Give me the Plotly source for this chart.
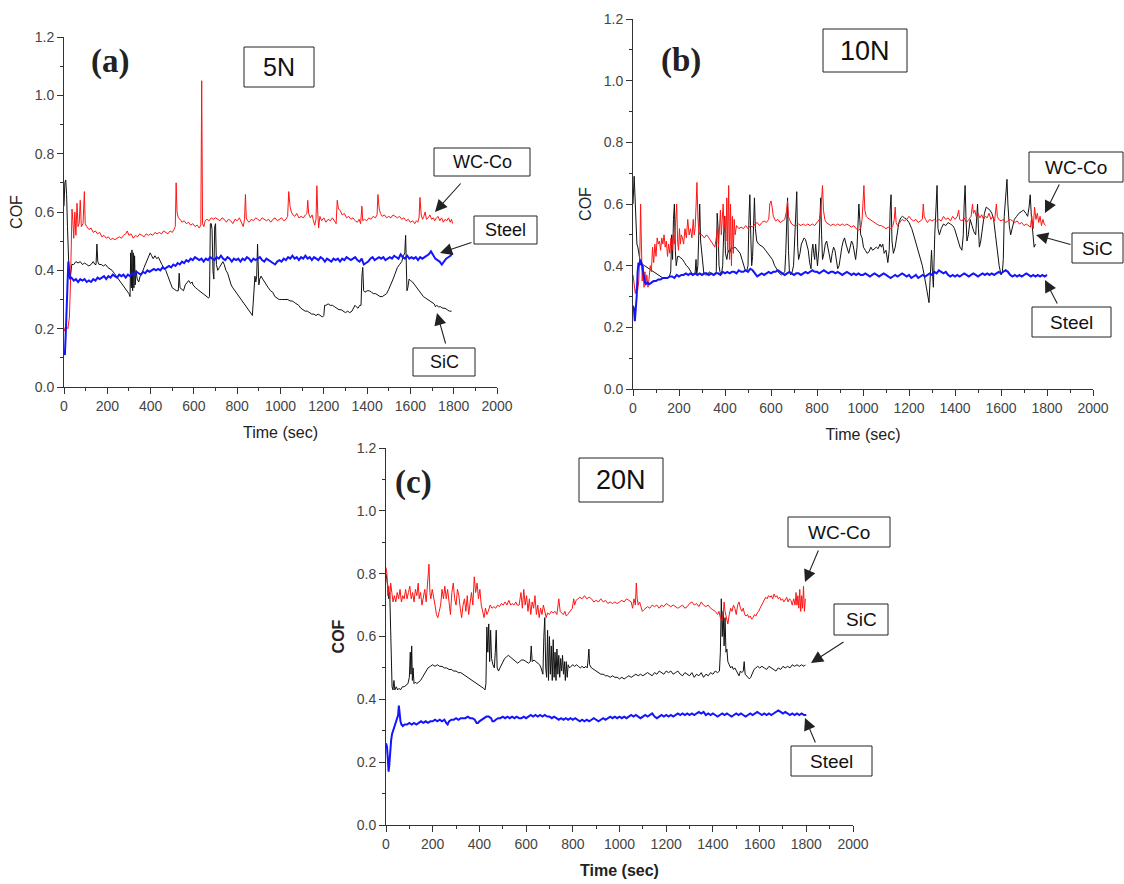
import plotly.graph_objects as go

# ---------------- measured friction data: (time in s, COF) ----------------
# (a) 5 N
a_wc = [(0,0.19),(8,0.21),(18,0.20),(25,0.24),(30,0.36),(33,0.55),(37,0.61),(41,0.57),(45,0.51),(50,0.60),(55,0.52),(60,0.63),(65,0.55),(70,0.56),(75,0.64),(80,0.55),(88,0.56),(94,0.67),(98,0.56),(105,0.55),(115,0.54),(125,0.545),(135,0.53),(145,0.535),(155,0.525),(165,0.53),(175,0.515),(185,0.52),(195,0.51),(205,0.515),(215,0.505),(225,0.51),(235,0.505),(245,0.51),(255,0.515),(265,0.51),(275,0.52),(285,0.525),(292,0.535),(300,0.52),(310,0.525),(320,0.51),(330,0.52),(340,0.515),(350,0.525),(360,0.52),(370,0.515),(380,0.525),(390,0.52),(400,0.525),(410,0.52),(420,0.53),(430,0.525),(440,0.53),(450,0.525),(460,0.535),(470,0.53),(480,0.525),(490,0.535),(500,0.53),(508,0.54),(514,0.55),(518,0.70),(522,0.60),(528,0.58),(536,0.575),(545,0.565),(555,0.57),(565,0.56),(575,0.565),(585,0.555),(595,0.56),(605,0.55),(615,0.555),(625,0.545),(632,0.555),(636,1.05),(640,0.56),(646,0.55),(652,0.57),(660,0.575),(670,0.57),(680,0.58),(690,0.575),(700,0.58),(710,0.575),(720,0.57),(730,0.58),(740,0.575),(750,0.565),(760,0.575),(770,0.57),(780,0.56),(790,0.575),(800,0.57),(810,0.58),(820,0.565),(828,0.55),(834,0.575),(838,0.66),(842,0.58),(848,0.57),(855,0.565),(865,0.575),(875,0.57),(885,0.58),(895,0.575),(905,0.57),(915,0.58),(925,0.575),(935,0.57),(945,0.575),(955,0.565),(965,0.575),(975,0.58),(985,0.57),(995,0.575),(1005,0.58),(1015,0.57),(1025,0.575),(1033,0.585),(1038,0.67),(1044,0.62),(1050,0.60),(1058,0.59),(1066,0.585),(1075,0.595),(1085,0.58),(1095,0.585),(1105,0.58),(1115,0.59),(1122,0.595),(1126,0.64),(1130,0.595),(1138,0.58),(1146,0.59),(1152,0.57),(1158,0.555),(1164,0.575),(1168,0.69),(1172,0.60),(1176,0.545),(1182,0.585),(1190,0.57),(1200,0.58),(1210,0.565),(1220,0.575),(1230,0.57),(1240,0.58),(1250,0.565),(1257,0.56),(1262,0.64),(1268,0.61),(1276,0.605),(1285,0.59),(1295,0.595),(1305,0.58),(1315,0.585),(1325,0.575),(1335,0.58),(1345,0.57),(1355,0.565),(1363,0.575),(1370,0.56),(1376,0.62),(1380,0.57),(1388,0.575),(1398,0.57),(1408,0.58),(1418,0.575),(1428,0.585),(1438,0.58),(1446,0.59),(1450,0.66),(1456,0.61),(1462,0.595),(1470,0.585),(1480,0.59),(1490,0.58),(1500,0.585),(1510,0.58),(1520,0.59),(1530,0.585),(1540,0.58),(1550,0.585),(1560,0.575),(1570,0.58),(1580,0.57),(1590,0.575),(1600,0.565),(1610,0.57),(1620,0.56),(1628,0.57),(1634,0.565),(1640,0.58),(1644,0.65),(1650,0.59),(1656,0.575),(1662,0.585),(1668,0.60),(1674,0.575),(1682,0.58),(1690,0.59),(1698,0.575),(1706,0.58),(1712,0.57),(1720,0.58),(1728,0.585),(1736,0.57),(1744,0.58),(1752,0.565),(1760,0.575),(1768,0.57),(1776,0.58),(1784,0.565),(1790,0.575),(1795,0.56)]

a_steel = [(0,0.12),(4,0.11),(8,0.18),(12,0.25),(16,0.33),(20,0.43),(24,0.40),(28,0.37),(35,0.375),(45,0.365),(55,0.37),(65,0.36),(75,0.37),(85,0.365),(95,0.37),(105,0.36),(115,0.365),(125,0.36),(135,0.37),(145,0.365),(155,0.375),(165,0.37),(175,0.375),(185,0.38),(195,0.37),(205,0.38),(215,0.375),(225,0.385),(235,0.38),(245,0.375),(255,0.385),(265,0.38),(275,0.385),(285,0.375),(295,0.385),(305,0.38),(315,0.39),(325,0.385),(335,0.395),(345,0.39),(355,0.385),(365,0.395),(375,0.39),(385,0.40),(395,0.395),(405,0.40),(415,0.405),(425,0.40),(435,0.405),(445,0.40),(455,0.41),(465,0.405),(475,0.41),(485,0.415),(495,0.41),(505,0.42),(515,0.415),(525,0.425),(535,0.42),(545,0.43),(555,0.425),(565,0.435),(575,0.43),(585,0.44),(595,0.435),(605,0.445),(615,0.44),(625,0.435),(635,0.44),(645,0.43),(655,0.44),(665,0.435),(675,0.445),(685,0.44),(695,0.435),(705,0.445),(715,0.44),(725,0.45),(735,0.44),(745,0.435),(755,0.445),(765,0.44),(775,0.43),(785,0.44),(795,0.435),(805,0.44),(815,0.43),(825,0.44),(835,0.435),(845,0.445),(855,0.44),(865,0.43),(875,0.44),(885,0.435),(895,0.44),(905,0.445),(915,0.435),(925,0.43),(935,0.44),(945,0.435),(955,0.43),(965,0.425),(975,0.42),(985,0.43),(995,0.435),(1005,0.43),(1015,0.44),(1025,0.435),(1035,0.445),(1045,0.44),(1055,0.45),(1065,0.44),(1075,0.445),(1085,0.435),(1095,0.445),(1105,0.44),(1115,0.45),(1125,0.44),(1135,0.445),(1145,0.435),(1155,0.445),(1165,0.44),(1175,0.435),(1185,0.445),(1195,0.44),(1205,0.43),(1215,0.44),(1225,0.435),(1235,0.43),(1245,0.44),(1255,0.435),(1265,0.44),(1275,0.43),(1285,0.44),(1295,0.435),(1305,0.445),(1315,0.44),(1325,0.435),(1335,0.44),(1345,0.445),(1355,0.435),(1365,0.43),(1375,0.44),(1385,0.42),(1395,0.425),(1405,0.43),(1415,0.44),(1425,0.445),(1435,0.435),(1445,0.44),(1455,0.445),(1465,0.44),(1475,0.445),(1485,0.435),(1495,0.44),(1505,0.445),(1515,0.44),(1525,0.45),(1535,0.445),(1545,0.44),(1555,0.455),(1565,0.445),(1575,0.44),(1585,0.45),(1595,0.44),(1605,0.445),(1615,0.44),(1625,0.445),(1635,0.435),(1645,0.445),(1655,0.44),(1665,0.445),(1675,0.45),(1685,0.455),(1695,0.465),(1705,0.45),(1715,0.44),(1725,0.435),(1735,0.43),(1745,0.42),(1755,0.43),(1765,0.44),(1775,0.445),(1785,0.45),(1795,0.46)]

a_sic = [(0,0.62),(4,0.70),(8,0.71),(12,0.66),(16,0.55),(20,0.45),(24,0.38),(28,0.37),(32,0.41),(36,0.42),(45,0.42),(55,0.43),(65,0.425),(75,0.43),(85,0.42),(95,0.425),(105,0.42),(115,0.415),(125,0.42),(135,0.43),(143,0.42),(148,0.42),(152,0.49),(156,0.43),(162,0.42),(172,0.42),(182,0.415),(192,0.42),(202,0.41),(212,0.405),(222,0.40),(232,0.39),(242,0.38),(252,0.37),(262,0.36),(272,0.35),(282,0.34),(292,0.33),(300,0.32),(305,0.31),(308,0.46),(311,0.34),(314,0.47),(317,0.33),(320,0.46),(323,0.34),(326,0.45),(329,0.35),(333,0.40),(338,0.37),(345,0.36),(352,0.38),(360,0.39),(370,0.41),(380,0.43),(390,0.45),(398,0.46),(405,0.45),(412,0.44),(420,0.45),(428,0.44),(436,0.445),(444,0.43),(452,0.42),(460,0.41),(470,0.40),(480,0.38),(490,0.36),(500,0.34),(510,0.335),(520,0.33),(528,0.33),(532,0.39),(536,0.34),(544,0.335),(552,0.33),(560,0.35),(568,0.36),(576,0.365),(584,0.355),(592,0.36),(596,0.35),(600,0.345),(608,0.34),(616,0.335),(624,0.33),(632,0.325),(640,0.32),(650,0.315),(660,0.31),(668,0.305),(672,0.31),(676,0.56),(680,0.56),(684,0.54),(688,0.40),(692,0.37),(696,0.55),(700,0.56),(704,0.42),(710,0.40),(718,0.41),(726,0.42),(734,0.43),(740,0.42),(748,0.40),(756,0.39),(764,0.37),(772,0.35),(780,0.34),(790,0.33),(800,0.32),(810,0.31),(820,0.30),(830,0.29),(840,0.28),(850,0.27),(860,0.26),(866,0.25),(870,0.245),(874,0.30),(878,0.37),(882,0.38),(886,0.36),(890,0.38),(894,0.49),(897,0.38),(900,0.35),(904,0.37),(910,0.38),(918,0.37),(926,0.36),(934,0.35),(944,0.34),(954,0.33),(964,0.325),(974,0.31),(984,0.305),(994,0.30),(1004,0.30),(1014,0.30),(1024,0.30),(1034,0.30),(1044,0.295),(1054,0.295),(1064,0.29),(1074,0.285),(1084,0.28),(1094,0.27),(1104,0.265),(1114,0.26),(1124,0.26),(1134,0.255),(1144,0.25),(1154,0.25),(1164,0.245),(1174,0.25),(1184,0.245),(1194,0.24),(1200,0.245),(1204,0.28),(1210,0.28),(1220,0.285),(1230,0.28),(1240,0.28),(1250,0.275),(1260,0.27),(1270,0.265),(1280,0.265),(1290,0.26),(1300,0.255),(1310,0.26),(1320,0.255),(1330,0.26),(1338,0.27),(1344,0.28),(1350,0.275),(1358,0.27),(1366,0.28),(1372,0.28),(1376,0.38),(1380,0.41),(1384,0.33),(1390,0.325),(1400,0.33),(1410,0.33),(1420,0.325),(1430,0.32),(1440,0.32),(1450,0.315),(1460,0.31),(1470,0.31),(1480,0.315),(1490,0.32),(1500,0.335),(1510,0.35),(1520,0.37),(1530,0.39),(1540,0.41),(1550,0.42),(1560,0.43),(1568,0.45),(1574,0.46),(1578,0.52),(1581,0.40),(1584,0.33),(1588,0.34),(1594,0.37),(1600,0.365),(1610,0.36),(1620,0.35),(1630,0.34),(1640,0.33),(1650,0.32),(1660,0.31),(1670,0.305),(1680,0.30),(1690,0.295),(1700,0.29),(1710,0.285),(1716,0.275),(1722,0.28),(1730,0.275),(1740,0.275),(1750,0.27),(1760,0.27),(1770,0.265),(1780,0.26),(1790,0.26)]

# (b) 10 N
b_wc = [(0,0.37),(5,0.33),(10,0.31),(15,0.33),(20,0.32),(25,0.35),(30,0.45),(33,0.60),(36,0.50),(40,0.35),(44,0.40),(48,0.33),(52,0.38),(56,0.34),(60,0.37),(65,0.33),(70,0.36),(75,0.40),(80,0.38),(85,0.46),(90,0.41),(95,0.47),(100,0.43),(105,0.49),(110,0.47),(115,0.48),(120,0.45),(125,0.49),(130,0.47),(135,0.50),(140,0.46),(145,0.48),(150,0.43),(155,0.47),(160,0.44),(165,0.49),(170,0.45),(175,0.50),(180,0.47),(185,0.56),(190,0.60),(194,0.48),(198,0.45),(202,0.52),(206,0.47),(210,0.50),(215,0.49),(220,0.47),(226,0.52),(232,0.49),(238,0.55),(244,0.50),(250,0.52),(256,0.49),(262,0.55),(266,0.50),(270,0.52),(274,0.59),(278,0.67),(282,0.56),(286,0.51),(292,0.50),(300,0.50),(310,0.49),(320,0.50),(330,0.49),(340,0.48),(350,0.47),(356,0.46),(362,0.49),(368,0.53),(372,0.46),(376,0.55),(380,0.58),(384,0.50),(388,0.55),(392,0.60),(396,0.52),(400,0.56),(404,0.48),(408,0.62),(412,0.45),(416,0.66),(420,0.42),(424,0.60),(428,0.40),(432,0.56),(436,0.44),(440,0.55),(444,0.50),(450,0.53),(460,0.52),(470,0.525),(480,0.52),(490,0.53),(500,0.52),(510,0.53),(520,0.525),(530,0.535),(540,0.54),(550,0.53),(560,0.54),(570,0.545),(580,0.54),(590,0.55),(595,0.60),(600,0.61),(605,0.59),(610,0.56),(620,0.545),(630,0.55),(640,0.54),(650,0.545),(660,0.55),(668,0.58),(672,0.61),(676,0.56),(680,0.55),(690,0.535),(700,0.53),(710,0.53),(720,0.535),(730,0.53),(740,0.535),(750,0.53),(760,0.535),(770,0.53),(780,0.535),(790,0.53),(800,0.54),(810,0.55),(816,0.57),(820,0.62),(824,0.66),(828,0.58),(834,0.55),(840,0.54),(850,0.535),(860,0.53),(870,0.535),(880,0.53),(890,0.535),(900,0.53),(910,0.535),(920,0.53),(930,0.535),(940,0.53),(950,0.525),(960,0.53),(970,0.52),(980,0.515),(990,0.52),(996,0.55),(1000,0.60),(1004,0.66),(1008,0.58),(1014,0.56),(1020,0.555),(1030,0.55),(1040,0.545),(1050,0.54),(1060,0.535),(1070,0.53),(1080,0.53),(1090,0.525),(1100,0.52),(1110,0.525),(1120,0.52),(1130,0.53),(1136,0.55),(1140,0.59),(1144,0.54),(1150,0.53),(1160,0.54),(1170,0.55),(1180,0.545),(1190,0.55),(1200,0.56),(1210,0.55),(1220,0.545),(1230,0.55),(1240,0.54),(1250,0.545),(1258,0.55),(1262,0.60),(1266,0.56),(1272,0.55),(1280,0.54),(1290,0.55),(1300,0.545),(1310,0.55),(1320,0.545),(1330,0.55),(1340,0.545),(1350,0.56),(1360,0.55),(1370,0.555),(1380,0.545),(1390,0.56),(1400,0.55),(1410,0.56),(1416,0.58),(1420,0.55),(1430,0.545),(1440,0.555),(1450,0.54),(1460,0.55),(1470,0.56),(1476,0.60),(1480,0.57),(1486,0.58),(1492,0.56),(1500,0.57),(1508,0.555),(1516,0.565),(1524,0.55),(1532,0.56),(1540,0.555),(1548,0.57),(1556,0.55),(1564,0.56),(1572,0.545),(1580,0.60),(1584,0.56),(1590,0.55),(1600,0.545),(1610,0.55),(1620,0.54),(1630,0.545),(1640,0.55),(1650,0.545),(1660,0.54),(1670,0.545),(1680,0.535),(1690,0.54),(1700,0.53),(1710,0.535),(1720,0.53),(1728,0.525),(1734,0.56),(1740,0.52),(1746,0.59),(1752,0.55),(1758,0.57),(1764,0.54),(1770,0.56),(1776,0.53),(1782,0.55),(1788,0.535),(1794,0.53)]

b_steel = [(0,0.27),(4,0.26),(8,0.22),(12,0.25),(16,0.30),(20,0.38),(24,0.41),(28,0.40),(32,0.42),(36,0.41),(40,0.40),(44,0.38),(48,0.36),(52,0.345),(56,0.34),(62,0.345),(70,0.34),(80,0.345),(90,0.35),(100,0.35),(110,0.355),(120,0.355),(130,0.36),(140,0.36),(150,0.36),(160,0.365),(170,0.365),(180,0.36),(190,0.37),(200,0.365),(210,0.37),(220,0.37),(230,0.375),(240,0.37),(250,0.375),(260,0.37),(270,0.375),(280,0.37),(290,0.375),(300,0.37),(310,0.375),(320,0.375),(330,0.37),(340,0.375),(350,0.37),(360,0.375),(370,0.375),(380,0.37),(390,0.38),(400,0.375),(410,0.38),(420,0.375),(430,0.38),(440,0.38),(450,0.375),(460,0.385),(470,0.38),(480,0.38),(490,0.385),(500,0.38),(510,0.39),(520,0.385),(530,0.375),(540,0.365),(550,0.37),(560,0.375),(570,0.37),(580,0.375),(590,0.38),(600,0.375),(610,0.38),(620,0.38),(630,0.385),(640,0.38),(650,0.375),(660,0.37),(670,0.375),(680,0.38),(690,0.375),(700,0.37),(710,0.375),(720,0.375),(730,0.37),(740,0.375),(750,0.38),(760,0.375),(770,0.38),(780,0.385),(790,0.38),(800,0.38),(810,0.375),(820,0.38),(830,0.385),(840,0.38),(850,0.375),(860,0.38),(870,0.38),(880,0.375),(890,0.38),(900,0.375),(910,0.37),(920,0.375),(930,0.38),(940,0.375),(950,0.37),(960,0.375),(970,0.37),(980,0.375),(990,0.37),(1000,0.37),(1010,0.375),(1020,0.37),(1030,0.365),(1040,0.37),(1050,0.375),(1060,0.37),(1070,0.365),(1080,0.37),(1090,0.375),(1100,0.37),(1110,0.365),(1120,0.36),(1130,0.365),(1140,0.37),(1150,0.365),(1160,0.37),(1170,0.375),(1180,0.37),(1190,0.365),(1200,0.37),(1210,0.36),(1220,0.365),(1230,0.37),(1240,0.36),(1250,0.365),(1260,0.37),(1270,0.365),(1280,0.37),(1290,0.375),(1300,0.37),(1310,0.38),(1320,0.375),(1330,0.385),(1340,0.38),(1350,0.375),(1360,0.38),(1370,0.37),(1380,0.365),(1390,0.37),(1400,0.365),(1410,0.37),(1420,0.365),(1430,0.37),(1440,0.375),(1450,0.37),(1460,0.365),(1470,0.37),(1480,0.375),(1490,0.37),(1500,0.365),(1510,0.37),(1520,0.375),(1530,0.37),(1540,0.375),(1550,0.37),(1560,0.375),(1570,0.37),(1580,0.375),(1590,0.38),(1600,0.375),(1610,0.38),(1620,0.385),(1630,0.38),(1640,0.37),(1650,0.365),(1660,0.37),(1670,0.365),(1680,0.37),(1690,0.365),(1700,0.37),(1710,0.375),(1720,0.37),(1730,0.365),(1740,0.37),(1750,0.365),(1760,0.37),(1770,0.365),(1780,0.37),(1790,0.365),(1800,0.37)]

b_sic = [(0,0.60),(5,0.69),(9,0.62),(13,0.50),(17,0.47),(21,0.46),(25,0.44),(30,0.42),(35,0.41),(40,0.405),(50,0.40),(60,0.395),(70,0.39),(80,0.385),(90,0.38),(100,0.375),(110,0.37),(120,0.365),(130,0.36),(140,0.36),(150,0.36),(158,0.365),(164,0.38),(168,0.50),(172,0.42),(176,0.55),(180,0.60),(184,0.45),(188,0.40),(194,0.43),(200,0.43),(208,0.425),(216,0.42),(224,0.41),(232,0.40),(240,0.395),(248,0.385),(256,0.375),(264,0.37),(270,0.375),(274,0.42),(277,0.37),(282,0.40),(286,0.56),(290,0.60),(294,0.48),(298,0.45),(302,0.40),(308,0.375),(316,0.37),(324,0.37),(332,0.38),(340,0.375),(348,0.37),(356,0.37),(362,0.38),(366,0.57),(370,0.52),(374,0.40),(378,0.38),(384,0.37),(390,0.40),(394,0.50),(398,0.56),(402,0.44),(408,0.42),(414,0.45),(420,0.44),(428,0.46),(436,0.455),(444,0.46),(450,0.455),(458,0.45),(466,0.44),(474,0.42),(482,0.40),(488,0.385),(494,0.38),(500,0.40),(504,0.55),(508,0.63),(512,0.50),(516,0.40),(520,0.43),(524,0.56),(528,0.62),(532,0.52),(538,0.48),(546,0.47),(556,0.465),(566,0.46),(576,0.45),(586,0.44),(596,0.43),(606,0.42),(616,0.40),(626,0.385),(636,0.375),(646,0.37),(654,0.375),(660,0.38),(664,0.44),(668,0.55),(672,0.62),(676,0.45),(680,0.38),(686,0.37),(692,0.38),(698,0.40),(704,0.50),(708,0.60),(712,0.64),(716,0.46),(720,0.42),(726,0.44),(732,0.47),(738,0.48),(744,0.49),(750,0.485),(756,0.47),(762,0.45),(768,0.41),(774,0.39),(778,0.45),(782,0.47),(786,0.44),(790,0.42),(794,0.47),(798,0.44),(802,0.40),(808,0.45),(812,0.55),(816,0.62),(820,0.50),(824,0.42),(830,0.44),(836,0.47),(842,0.48),(848,0.46),(854,0.43),(860,0.41),(866,0.44),(872,0.46),(878,0.45),(884,0.41),(890,0.39),(896,0.40),(902,0.44),(908,0.46),(914,0.48),(920,0.49),(926,0.47),(932,0.45),(938,0.44),(944,0.46),(950,0.48),(956,0.47),(962,0.45),(968,0.42),(974,0.46),(978,0.54),(982,0.60),(986,0.55),(990,0.50),(996,0.49),(1002,0.46),(1010,0.45),(1018,0.44),(1026,0.445),(1034,0.46),(1042,0.45),(1050,0.455),(1058,0.46),(1066,0.455),(1074,0.47),(1080,0.46),(1086,0.47),(1092,0.44),(1100,0.45),(1108,0.41),(1114,0.45),(1118,0.58),(1122,0.63),(1126,0.48),(1132,0.44),(1140,0.46),(1148,0.50),(1156,0.54),(1164,0.555),(1172,0.56),(1180,0.555),(1190,0.55),(1200,0.54),(1212,0.52),(1224,0.49),(1236,0.46),(1248,0.43),(1258,0.40),(1266,0.37),(1274,0.33),(1280,0.30),(1287,0.28),(1292,0.36),(1298,0.45),(1302,0.38),(1306,0.33),(1312,0.50),(1318,0.64),(1322,0.66),(1326,0.52),(1332,0.50),(1340,0.52),(1350,0.535),(1360,0.53),(1370,0.54),(1380,0.535),(1390,0.53),(1398,0.52),(1406,0.50),(1414,0.48),(1422,0.46),(1430,0.45),(1436,0.50),(1440,0.60),(1444,0.66),(1448,0.55),(1452,0.48),(1458,0.50),(1466,0.55),(1474,0.53),(1482,0.51),(1490,0.50),(1494,0.56),(1498,0.60),(1502,0.52),(1506,0.46),(1512,0.48),(1520,0.52),(1528,0.57),(1536,0.59),(1544,0.585),(1552,0.58),(1560,0.57),(1568,0.55),(1576,0.50),(1584,0.44),(1592,0.40),(1600,0.37),(1606,0.38),(1610,0.42),(1614,0.56),(1620,0.62),(1626,0.68),(1630,0.60),(1636,0.53),(1642,0.50),(1650,0.53),(1658,0.55),(1668,0.56),(1678,0.57),(1688,0.575),(1698,0.58),(1708,0.57),(1716,0.56),(1722,0.59),(1727,0.63),(1732,0.56),(1738,0.50),(1744,0.46),(1750,0.47)]

# (c) 20 N
c_wc = [(0,0.82),(4,0.80),(8,0.73),(12,0.76),(16,0.72),(20,0.77),(25,0.74),(30,0.71),(36,0.73),(42,0.71),(48,0.74),(54,0.72),(60,0.75),(66,0.71),(72,0.73),(78,0.72),(84,0.75),(90,0.72),(96,0.74),(102,0.76),(108,0.72),(114,0.74),(120,0.71),(126,0.75),(132,0.73),(138,0.77),(142,0.72),(148,0.74),(154,0.70),(160,0.73),(166,0.75),(172,0.71),(178,0.76),(184,0.83),(188,0.74),(192,0.72),(198,0.75),(204,0.73),(210,0.70),(216,0.67),(222,0.66),(228,0.68),(234,0.70),(240,0.75),(246,0.72),(252,0.76),(258,0.72),(264,0.75),(270,0.71),(276,0.67),(282,0.74),(288,0.77),(294,0.72),(300,0.70),(306,0.75),(312,0.73),(318,0.69),(324,0.66),(330,0.70),(336,0.72),(342,0.68),(348,0.73),(354,0.67),(360,0.71),(366,0.74),(372,0.70),(378,0.79),(384,0.74),(390,0.77),(396,0.72),(402,0.75),(408,0.70),(414,0.68),(420,0.66),(426,0.69),(432,0.67),(438,0.68),(446,0.70),(454,0.69),(462,0.695),(470,0.69),(478,0.70),(486,0.695),(494,0.705),(502,0.70),(510,0.71),(518,0.70),(526,0.715),(534,0.70),(540,0.705),(548,0.70),(556,0.71),(562,0.70),(570,0.70),(578,0.74),(584,0.69),(590,0.75),(596,0.70),(602,0.73),(608,0.68),(614,0.72),(620,0.67),(626,0.71),(632,0.69),(638,0.73),(644,0.67),(650,0.70),(656,0.66),(662,0.69),(668,0.67),(674,0.70),(680,0.68),(686,0.66),(692,0.675),(700,0.67),(708,0.68),(716,0.675),(724,0.68),(732,0.67),(740,0.72),(746,0.68),(752,0.675),(760,0.67),(766,0.68),(772,0.665),(778,0.67),(784,0.675),(790,0.68),(798,0.69),(804,0.72),(808,0.70),(814,0.715),(820,0.72),(830,0.725),(840,0.72),(850,0.73),(860,0.72),(870,0.725),(880,0.72),(890,0.71),(900,0.715),(910,0.71),(920,0.72),(930,0.71),(940,0.715),(950,0.705),(960,0.71),(970,0.705),(980,0.71),(990,0.705),(1000,0.71),(1010,0.715),(1020,0.71),(1030,0.72),(1040,0.715),(1050,0.71),(1056,0.69),(1062,0.72),(1068,0.70),(1072,0.77),(1076,0.72),(1080,0.70),(1086,0.71),(1092,0.69),(1098,0.68),(1104,0.685),(1112,0.69),(1120,0.695),(1130,0.69),(1140,0.70),(1150,0.695),(1160,0.70),(1170,0.69),(1180,0.70),(1190,0.695),(1200,0.705),(1210,0.70),(1220,0.695),(1230,0.70),(1240,0.695),(1250,0.69),(1260,0.695),(1270,0.70),(1280,0.69),(1290,0.695),(1300,0.705),(1310,0.71),(1320,0.70),(1330,0.705),(1340,0.695),(1350,0.71),(1360,0.70),(1370,0.695),(1380,0.70),(1390,0.69),(1400,0.685),(1410,0.68),(1420,0.67),(1426,0.68),(1432,0.66),(1438,0.65),(1444,0.67),(1448,0.71),(1452,0.68),(1458,0.66),(1464,0.64),(1470,0.67),(1476,0.69),(1482,0.68),(1488,0.70),(1494,0.69),(1500,0.67),(1506,0.70),(1512,0.71),(1518,0.69),(1524,0.68),(1530,0.69),(1536,0.67),(1542,0.665),(1548,0.67),(1554,0.66),(1560,0.665),(1566,0.655),(1572,0.66),(1578,0.67),(1584,0.665),(1590,0.675),(1596,0.68),(1602,0.69),(1608,0.70),(1614,0.71),(1620,0.72),(1626,0.725),(1632,0.72),(1638,0.73),(1644,0.725),(1650,0.73),(1656,0.72),(1662,0.735),(1668,0.725),(1674,0.73),(1680,0.72),(1686,0.725),(1692,0.715),(1698,0.72),(1704,0.71),(1710,0.72),(1716,0.725),(1722,0.71),(1728,0.72),(1734,0.715),(1740,0.70),(1746,0.72),(1752,0.70),(1756,0.74),(1760,0.70),(1764,0.73),(1768,0.69),(1772,0.75),(1776,0.68),(1780,0.73),(1784,0.69),(1788,0.76),(1792,0.68),(1796,0.72)]

c_steel = [(0,0.26),(4,0.25),(8,0.21),(11,0.17),(14,0.19),(18,0.24),(22,0.27),(26,0.29),(30,0.30),(36,0.31),(42,0.33),(48,0.34),(52,0.35),(55,0.38),(58,0.35),(62,0.33),(66,0.32),(72,0.315),(80,0.32),(90,0.32),(100,0.325),(110,0.32),(120,0.325),(130,0.32),(140,0.325),(150,0.33),(160,0.325),(170,0.33),(180,0.325),(190,0.33),(200,0.33),(210,0.335),(220,0.33),(230,0.335),(240,0.33),(250,0.335),(258,0.325),(264,0.32),(270,0.33),(280,0.335),(290,0.335),(300,0.34),(310,0.335),(320,0.34),(330,0.34),(340,0.34),(350,0.345),(360,0.34),(370,0.34),(380,0.335),(388,0.325),(394,0.325),(400,0.33),(410,0.335),(420,0.34),(430,0.345),(440,0.345),(450,0.34),(456,0.33),(462,0.33),(470,0.335),(480,0.34),(490,0.34),(500,0.345),(510,0.34),(520,0.345),(530,0.34),(540,0.345),(550,0.34),(560,0.345),(570,0.34),(580,0.34),(590,0.345),(600,0.34),(610,0.345),(620,0.35),(630,0.345),(640,0.35),(650,0.345),(660,0.35),(670,0.345),(680,0.35),(690,0.345),(700,0.345),(710,0.34),(720,0.345),(730,0.34),(740,0.335),(750,0.34),(760,0.335),(770,0.34),(780,0.335),(790,0.34),(800,0.335),(810,0.34),(820,0.335),(830,0.33),(840,0.335),(850,0.33),(860,0.335),(870,0.33),(880,0.335),(890,0.34),(900,0.335),(910,0.33),(920,0.335),(930,0.34),(940,0.335),(950,0.34),(960,0.345),(970,0.34),(980,0.345),(990,0.34),(1000,0.345),(1010,0.34),(1020,0.345),(1030,0.34),(1040,0.345),(1050,0.35),(1060,0.345),(1070,0.35),(1080,0.345),(1090,0.34),(1100,0.345),(1110,0.35),(1120,0.345),(1130,0.35),(1140,0.355),(1150,0.345),(1160,0.34),(1170,0.345),(1180,0.35),(1190,0.345),(1200,0.35),(1210,0.345),(1220,0.35),(1230,0.345),(1240,0.35),(1250,0.355),(1260,0.35),(1270,0.355),(1280,0.35),(1290,0.355),(1300,0.35),(1310,0.355),(1320,0.35),(1330,0.355),(1340,0.36),(1350,0.355),(1360,0.36),(1370,0.35),(1380,0.355),(1390,0.35),(1400,0.355),(1410,0.35),(1420,0.345),(1430,0.35),(1440,0.355),(1450,0.35),(1460,0.355),(1470,0.35),(1480,0.345),(1490,0.35),(1500,0.355),(1510,0.35),(1520,0.355),(1530,0.35),(1540,0.345),(1550,0.35),(1560,0.355),(1570,0.35),(1580,0.355),(1590,0.36),(1600,0.355),(1610,0.35),(1620,0.355),(1630,0.35),(1640,0.355),(1650,0.35),(1660,0.355),(1670,0.36),(1680,0.365),(1690,0.36),(1700,0.355),(1710,0.36),(1720,0.355),(1730,0.35),(1740,0.355),(1750,0.35),(1760,0.355),(1770,0.35),(1780,0.355),(1790,0.35),(1800,0.35)]

c_sic = [(0,0.80),(4,0.78),(8,0.76),(12,0.72),(16,0.74),(20,0.62),(23,0.50),(26,0.44),(30,0.43),(34,0.46),(38,0.43),(44,0.44),(50,0.43),(56,0.435),(62,0.43),(70,0.44),(78,0.44),(86,0.445),(94,0.45),(100,0.47),(104,0.55),(107,0.48),(110,0.57),(113,0.46),(116,0.50),(120,0.45),(126,0.455),(132,0.45),(140,0.455),(148,0.46),(156,0.47),(164,0.48),(172,0.49),(180,0.50),(190,0.505),(200,0.51),(210,0.505),(220,0.51),(230,0.505),(240,0.505),(250,0.50),(260,0.50),(270,0.495),(280,0.495),(290,0.49),(300,0.49),(310,0.485),(320,0.485),(330,0.48),(340,0.475),(350,0.47),(360,0.465),(370,0.46),(380,0.455),(390,0.45),(400,0.445),(410,0.44),(418,0.435),(424,0.43),(428,0.45),(432,0.63),(436,0.55),(440,0.64),(444,0.52),(448,0.62),(452,0.53),(458,0.51),(464,0.50),(468,0.55),(472,0.62),(476,0.50),(482,0.49),(488,0.50),(494,0.51),(500,0.52),(508,0.53),(516,0.535),(524,0.54),(532,0.535),(540,0.53),(548,0.525),(556,0.52),(564,0.515),(572,0.52),(580,0.525),(590,0.525),(600,0.52),(610,0.515),(618,0.52),(622,0.57),(626,0.52),(634,0.525),(642,0.52),(650,0.515),(658,0.51),(664,0.50),(668,0.49),(672,0.48),(676,0.60),(680,0.66),(684,0.50),(688,0.47),(692,0.62),(696,0.46),(700,0.60),(704,0.48),(708,0.57),(712,0.46),(716,0.59),(720,0.47),(724,0.55),(728,0.46),(732,0.56),(736,0.48),(740,0.54),(744,0.47),(748,0.53),(752,0.49),(756,0.54),(760,0.48),(764,0.52),(768,0.46),(772,0.52),(776,0.47),(780,0.51),(786,0.50),(792,0.505),(800,0.51),(808,0.505),(816,0.51),(824,0.505),(832,0.50),(840,0.505),(848,0.50),(856,0.505),(862,0.50),(866,0.53),(869,0.56),(872,0.51),(880,0.50),(890,0.495),(900,0.49),(910,0.485),(920,0.48),(930,0.48),(940,0.475),(950,0.475),(960,0.47),(970,0.475),(980,0.47),(990,0.47),(1000,0.465),(1010,0.47),(1020,0.465),(1030,0.47),(1040,0.475),(1050,0.47),(1060,0.475),(1070,0.48),(1080,0.475),(1090,0.48),(1100,0.475),(1110,0.48),(1120,0.485),(1130,0.48),(1140,0.475),(1150,0.485),(1160,0.48),(1170,0.49),(1180,0.485),(1190,0.48),(1200,0.49),(1210,0.485),(1220,0.49),(1230,0.48),(1240,0.485),(1250,0.49),(1260,0.48),(1270,0.475),(1280,0.485),(1290,0.48),(1300,0.475),(1310,0.485),(1320,0.47),(1330,0.48),(1340,0.475),(1350,0.485),(1360,0.47),(1370,0.48),(1380,0.475),(1390,0.485),(1400,0.48),(1410,0.49),(1420,0.485),(1428,0.49),(1432,0.55),(1436,0.72),(1440,0.60),(1444,0.68),(1448,0.57),(1452,0.66),(1456,0.55),(1460,0.56),(1464,0.52),(1470,0.51),(1476,0.50),(1482,0.505),(1488,0.495),(1494,0.50),(1500,0.49),(1506,0.48),(1512,0.475),(1518,0.49),(1524,0.485),(1530,0.49),(1534,0.52),(1538,0.48),(1544,0.475),(1550,0.47),(1556,0.465),(1562,0.47),(1568,0.48),(1576,0.495),(1584,0.50),(1592,0.505),(1600,0.50),(1610,0.505),(1620,0.50),(1630,0.495),(1640,0.505),(1650,0.50),(1660,0.495),(1670,0.49),(1680,0.50),(1690,0.495),(1700,0.505),(1710,0.50),(1720,0.505),(1730,0.50),(1740,0.51),(1750,0.505),(1760,0.51),(1770,0.505),(1780,0.51),(1790,0.505),(1796,0.51)]

x_ticks = [0, 200, 400, 600, 800, 1000, 1200, 1400, 1600, 1800, 2000]
y_ticks = [0.0, 0.2, 0.4, 0.6, 0.8, 1.0, 1.2]

# ---------------- page geometry (figure is drawn at 1124 x 884 px) ----------------
W, H = 1124, 884


def fx(px):
    return px / W


def fy(py):
    return 1 - py / H


panels = [
    # axis suffix, plot box in px (left, right, bottom, top)
    dict(key="", box=(64, 497, 387, 37), series=[a_sic, a_wc, a_steel]),
    dict(key="2", box=(633, 1093, 389, 19), series=[b_sic, b_wc, b_steel]),
    dict(key="3", box=(386, 853, 825, 448), series=[c_sic, c_wc, c_steel]),
]

line_styles = [
    dict(color="#111111", width=1),   # SiC
    dict(color="#ff1414", width=1),   # WC-Co
    dict(color="#1414ff", width=2),   # Steel
]

FONT = "Liberation Sans, Arial, sans-serif"
AX_COL = "#333333"

fig = go.Figure()
layout = dict(
    width=W, height=H, margin=dict(l=0, r=0, t=0, b=0, pad=0, autoexpand=False),
    paper_bgcolor="white", plot_bgcolor="rgba(0,0,0,0)",
    showlegend=False, shapes=[], annotations=[],
)

for i, p in enumerate(panels):
    k = p["key"]
    xa, ya = "x" + k, "y" + k
    for data, st in zip(p["series"], line_styles):
        fig.add_trace(go.Scatter(
            x=[d[0] for d in data], y=[d[1] for d in data],
            mode="lines", line=dict(color=st["color"], width=st["width"]),
            xaxis=xa, yaxis=ya, hoverinfo="skip"))
    left, right, bottom, top = p["box"]
    bold = (i == 2)
    layout["xaxis" + k] = dict(
        domain=[fx(left), fx(right)], anchor=ya, range=[0, 2000], automargin=False,
        tickvals=x_ticks, ticks="outside", ticklen=6, tickwidth=1, tickcolor=AX_COL,
        minor=dict(ticks="outside", ticklen=3, dtick=100, tick0=0, tickcolor=AX_COL),
        showline=True, linecolor=AX_COL, linewidth=1, showgrid=False, zeroline=False,
        tickfont=dict(family=FONT, size=14, color="#444444"),
        title=dict(text="<b>Time (sec)</b>" if bold else "Time (sec)",
                   font=dict(family=FONT, size=16, color="#222222"), standoff=14),
    )
    layout["yaxis" + k] = dict(
        domain=[fy(bottom), fy(top)], anchor=xa, range=[0, 1.2], automargin=False,
        tickvals=y_ticks, tickformat=".1f", ticks="outside", ticklen=6, tickwidth=1,
        tickcolor=AX_COL,
        minor=dict(ticks="outside", ticklen=3, dtick=0.1, tick0=0, tickcolor=AX_COL),
        showline=True, linecolor=AX_COL, linewidth=1, showgrid=False, zeroline=False,
        tickfont=dict(family=FONT, size=14, color="#444444"),
        title=dict(text="<b>COF</b>" if bold else "COF",
                   font=dict(family=FONT, size=16, color="#222222"), standoff=8),
    )

# ---------------- panel tags, load boxes and material call-outs ----------------
tags = [("(a)", 110, 62), ("(b)", 681, 61), ("(c)", 413, 483)]
for text, cx, cy in tags:
    layout["annotations"].append(dict(
        text="<b>%s</b>" % text, x=fx(cx), y=fy(cy), xref="paper", yref="paper",
        showarrow=False, xanchor="center", yanchor="middle",
        font=dict(family="Liberation Serif, Times New Roman, serif", size=33, color="#222222")))

# (text, left, top, right, bottom, font size)
boxes = [
    ("5N", 244, 47, 314, 87, 25),
    ("10N", 823, 29, 907, 72, 27),
    ("20N", 579, 458, 663, 502, 27),
    ("WC-Co", 434, 148, 530, 176, 18),
    ("Steel", 474, 216, 537, 244, 18),
    ("SiC", 413, 348, 475, 376, 18),
    ("WC-Co", 1029, 152, 1123, 182, 19),
    ("SiC", 1072, 233, 1123, 263, 19),
    ("Steel", 1032, 307, 1111, 337, 19),
    ("WC-Co", 788, 517, 890, 547, 19),
    ("SiC", 834, 604, 888, 635, 19),
    ("Steel", 791, 746, 872, 776, 19),
]
for text, l, t, r, b, size in boxes:
    layout["shapes"].append(dict(
        type="rect", xref="paper", yref="paper", x0=fx(l), x1=fx(r), y0=fy(b), y1=fy(t),
        line=dict(color="#222222", width=1), fillcolor="white", layer="above"))
    layout["annotations"].append(dict(
        text=text, x=fx((l + r) / 2), y=fy((t + b) / 2), xref="paper", yref="paper",
        showarrow=False, xanchor="center", yanchor="middle",
        font=dict(family=FONT, size=size, color="#111111")))

# arrows: (tail x, tail y, head x, head y) in px
arrows = [
    (462, 182, 435, 212),
    (473, 242, 440, 253),
    (446, 345, 437, 313),
    (1060, 183, 1045, 213),
    (1072, 245, 1036, 235),
    (1058, 305, 1045, 280),
    (819, 549, 805, 582),
    (845, 641, 811, 663),
    (816, 744, 805, 718),
]
for tx, ty, hx, hy in arrows:
    layout["annotations"].append(dict(
        text="", x=fx(hx), y=fy(hy), xref="paper", yref="paper",
        ax=tx - hx, ay=ty - hy, axref="pixel", ayref="pixel",
        showarrow=True, arrowhead=2, arrowsize=2.2, arrowwidth=1.1,
        arrowcolor="#222222", standoff=0))

fig.update_layout(**layout)
fig.write_html("out.html")
